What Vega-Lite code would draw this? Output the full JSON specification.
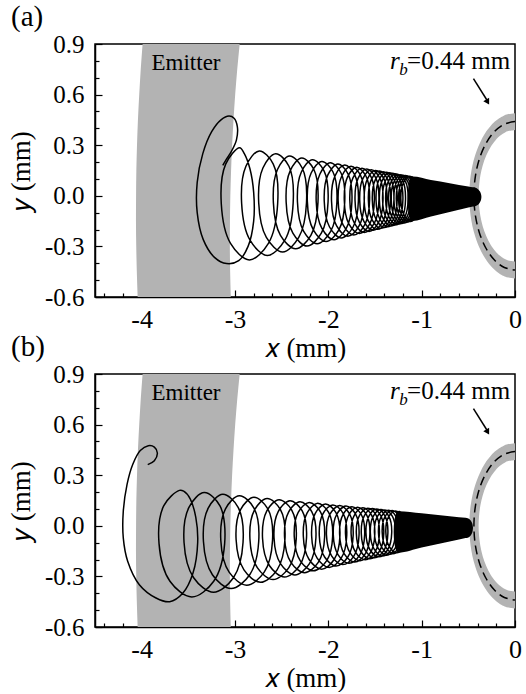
{
"$schema": "https://vega.github.io/schema/vega-lite/v6.json",
"background": "white",
"padding": {"left": 6, "top": 2, "right": 2, "bottom": 0},
"spacing": 77,
"bounds": "flush",
"config": {
 "font": "Liberation Serif",
 "view": {"stroke": "black", "strokeWidth": 1.5},
 "axis": {"grid": false, "domainColor": "black", "domainWidth": 1.5, "tickColor": "black", "tickWidth": 1.2, "labelColor": "black", "titleColor": "black", "titleFontWeight": "normal", "labelFlush": false, "labelOverlap": false, "zindex": 1, "labelFont": "Liberation Serif", "titleFont": "Liberation Serif"},
 "title": {"font": "Liberation Serif", "fontWeight": "normal", "color": "black"}
},
"datasets": {
 "emitter": [
  {"y":-0.6,"x":-4.043,"x2":-3.045},{"y":-0.45,"x":-4.052,"x2":-3.052},{"y":-0.3,"x":-4.058,"x2":-3.055},{"y":-0.15,"x":-4.061,"x2":-3.054},{"y":0,"x":-4.060,"x2":-3.050},{"y":0.15,"x":-4.057,"x2":-3.042},{"y":0.3,"x":-4.050,"x2":-3.031},{"y":0.45,"x":-4.040,"x2":-3.016},{"y":0.6,"x":-4.026,"x2":-2.998},{"y":0.75,"x":-4.010,"x2":-2.976},{"y":0.9,"x":-3.990,"x2":-2.950}
 ],
 "ring": [
  {"y":-0.49,"x":0,"x2":0},{"y":-0.485,"x":-0.070,"x2":0},{"y":-0.475,"x":-0.120,"x2":0},{"y":-0.46,"x":-0.169,"x2":0},{"y":-0.44,"x":-0.216,"x2":0},{"y":-0.41,"x":-0.268,"x2":0},{"y":-0.39,"x":-0.297,"x2":0},{"y":-0.385,"x":-0.303,"x2":-0.062},{"y":-0.375,"x":-0.315,"x2":-0.107},{"y":-0.36,"x":-0.332,"x2":-0.150},{"y":-0.33,"x":-0.362,"x2":-0.208},{"y":-0.29,"x":-0.395,"x2":-0.261},{"y":-0.24,"x":-0.427,"x2":-0.307},{"y":-0.18,"x":-0.456,"x2":-0.346},{"y":-0.12,"x":-0.475,"x2":-0.371},{"y":-0.06,"x":-0.486,"x2":-0.385},{"y":0,"x":-0.49,"x2":-0.39},
  {"y":0.06,"x":-0.486,"x2":-0.385},{"y":0.12,"x":-0.475,"x2":-0.371},{"y":0.18,"x":-0.456,"x2":-0.346},{"y":0.24,"x":-0.427,"x2":-0.307},{"y":0.29,"x":-0.395,"x2":-0.261},{"y":0.33,"x":-0.362,"x2":-0.208},{"y":0.36,"x":-0.332,"x2":-0.150},{"y":0.375,"x":-0.315,"x2":-0.107},{"y":0.385,"x":-0.303,"x2":-0.062},{"y":0.39,"x":-0.297,"x2":0},{"y":0.41,"x":-0.268,"x2":0},{"y":0.44,"x":-0.216,"x2":0},{"y":0.46,"x":-0.169,"x2":0},{"y":0.475,"x":-0.120,"x2":0},{"y":0.485,"x":-0.070,"x2":0},{"y":0.49,"x":0,"x2":0}
 ],
 "circ": [
  {"x":0,"y":0.44},{"x":-0.114,"y":0.425},{"x":-0.22,"y":0.381},{"x":-0.311,"y":0.311},{"x":-0.381,"y":0.22},{"x":-0.425,"y":0.114},{"x":-0.44,"y":0},{"x":-0.425,"y":-0.114},{"x":-0.381,"y":-0.22},{"x":-0.311,"y":-0.311},{"x":-0.22,"y":-0.381},{"x":-0.114,"y":-0.425},{"x":0,"y":-0.44}
 ],
 "lab_em": [{"x":-3.525,"y":0.746,"t":"Emitter"}],
 "lab_r": [{"x":-1.338,"y":0.754,"t":"r"}],
 "lab_b": [{"x":-1.240,"y":0.714,"t":"b"}],
 "lab_mm": [{"x":-1.156,"y":0.754,"t":"=0.44 mm"}],
 "arrow": [{"x":-0.445,"y":0.695,"x2":-0.298,"y2":0.565}],
 "head": [{"x":-0.293,"y":0.556}],
 "trajA": [
  {"x":-3.131,"y":0.181},{"x":-3.095,"y":0.215},{"x":-3.040,"y":0.262},{"x":-2.985,"y":0.330},{"x":-2.975,"y":0.410},{"x":-3.010,"y":0.460},{"x":-3.065,"y":0.473},{"x":-3.150,"y":0.450},{"x":-3.250,"y":0.380},{"x":-3.345,"y":0.250},{"x":-3.405,"y":0.080},{"x":-3.405,"y":-0.100},{"x":-3.340,"y":-0.260},{"x":-3.220,"y":-0.365},{"x":-3.090,"y":-0.402},{"x":-2.960,"y":-0.385},{"x":-2.860,"y":-0.300},{"x":-2.800,"y":-0.150},{"x":-2.800,"y":0.020},{"x":-2.840,"y":0.160},{"x":-2.900,"y":0.250},
  {"x":-2.950,"y":0.285},{"x":-3.100,"y":0.188},{"x":-3.147,"y":-0.047},{"x":-3.048,"y":-0.282},{"x":-2.845,"y":-0.380},{"x":-2.642,"y":-0.282},{"x":-2.543,"y":-0.047},{"x":-2.590,"y":0.188},
  {"x":-2.740,"y":0.266},{"x":-2.883,"y":0.175},{"x":-2.929,"y":-0.044},{"x":-2.839,"y":-0.263},{"x":-2.653,"y":-0.354},{"x":-2.466,"y":-0.263},{"x":-2.377,"y":-0.044},{"x":-2.422,"y":0.175},
  {"x":-2.565,"y":0.250},{"x":-2.701,"y":0.165},{"x":-2.746,"y":-0.041},{"x":-2.664,"y":-0.247},{"x":-2.490,"y":-0.333},{"x":-2.317,"y":-0.247},{"x":-2.234,"y":-0.041},{"x":-2.280,"y":0.165},
  {"x":-2.415,"y":0.236},{"x":-2.545,"y":0.156},{"x":-2.589,"y":-0.039},{"x":-2.513,"y":-0.234},{"x":-2.350,"y":-0.314},{"x":-2.187,"y":-0.234},{"x":-2.111,"y":-0.039},{"x":-2.155,"y":0.156},
  {"x":-2.285,"y":0.224},{"x":-2.409,"y":0.148},{"x":-2.452,"y":-0.037},{"x":-2.380,"y":-0.222},{"x":-2.228,"y":-0.298},{"x":-2.075,"y":-0.222},{"x":-2.003,"y":-0.037},{"x":-2.046,"y":0.148},
  {"x":-2.170,"y":0.214},{"x":-2.289,"y":0.141},{"x":-2.331,"y":-0.035},{"x":-2.264,"y":-0.211},{"x":-2.120,"y":-0.284},{"x":-1.975,"y":-0.211},{"x":-1.908,"y":-0.035},{"x":-1.950,"y":0.141},
  {"x":-2.069,"y":0.204},{"x":-2.184,"y":0.135},{"x":-2.225,"y":-0.033},{"x":-2.161,"y":-0.202},{"x":-2.024,"y":-0.271},{"x":-1.887,"y":-0.202},{"x":-1.824,"y":-0.033},{"x":-1.864,"y":0.135},
  {"x":-1.979,"y":0.196},{"x":-2.090,"y":0.129},{"x":-2.130,"y":-0.032},{"x":-2.069,"y":-0.193},{"x":-1.939,"y":-0.260},{"x":-1.808,"y":-0.193},{"x":-1.747,"y":-0.032},{"x":-1.788,"y":0.129},
  {"x":-1.898,"y":0.188},{"x":-2.005,"y":0.124},{"x":-2.044,"y":-0.031},{"x":-1.987,"y":-0.185},{"x":-1.861,"y":-0.250},{"x":-1.735,"y":-0.185},{"x":-1.678,"y":-0.031},{"x":-1.717,"y":0.124},
  {"x":-1.824,"y":0.182},{"x":-1.927,"y":0.120},{"x":-1.966,"y":-0.029},{"x":-1.911,"y":-0.179},{"x":-1.791,"y":-0.240},{"x":-1.671,"y":-0.179},{"x":-1.615,"y":-0.029},{"x":-1.654,"y":0.120},
  {"x":-1.757,"y":0.175},{"x":-1.857,"y":0.116},{"x":-1.895,"y":-0.028},{"x":-1.842,"y":-0.172},{"x":-1.727,"y":-0.232},{"x":-1.611,"y":-0.172},{"x":-1.558,"y":-0.028},{"x":-1.596,"y":0.116},
  {"x":-1.696,"y":0.169},{"x":-1.794,"y":0.112},{"x":-1.829,"y":-0.027},{"x":-1.780,"y":-0.167},{"x":-1.668,"y":-0.224},{"x":-1.556,"y":-0.167},{"x":-1.507,"y":-0.027},{"x":-1.542,"y":0.112},
  {"x":-1.640,"y":0.164},{"x":-1.735,"y":0.108},{"x":-1.770,"y":-0.026},{"x":-1.722,"y":-0.161},{"x":-1.614,"y":-0.217},{"x":-1.506,"y":-0.161},{"x":-1.458,"y":-0.026},{"x":-1.493,"y":0.108},
  {"x":-1.588,"y":0.159},{"x":-1.680,"y":0.105},{"x":-1.714,"y":-0.026},{"x":-1.668,"y":-0.156},{"x":-1.564,"y":-0.211},{"x":-1.460,"y":-0.156},{"x":-1.414,"y":-0.026},{"x":-1.448,"y":0.105},
  {"x":-1.540,"y":0.155},{"x":-1.630,"y":0.102},{"x":-1.664,"y":-0.025},{"x":-1.619,"y":-0.152},{"x":-1.518,"y":-0.204},{"x":-1.416,"y":-0.152},{"x":-1.371,"y":-0.025},{"x":-1.405,"y":0.102},
  {"x":-1.495,"y":0.150},{"x":-1.582,"y":0.099},{"x":-1.616,"y":-0.024},{"x":-1.572,"y":-0.148},{"x":-1.474,"y":-0.199},{"x":-1.376,"y":-0.148},{"x":-1.332,"y":-0.024},{"x":-1.366,"y":0.099},
  {"x":-1.453,"y":0.147},{"x":-1.538,"y":0.097},{"x":-1.571,"y":-0.023},{"x":-1.529,"y":-0.144},{"x":-1.434,"y":-0.193},{"x":-1.339,"y":-0.144},{"x":-1.297,"y":-0.023},{"x":-1.329,"y":0.097},
  {"x":-1.414,"y":0.143},{"x":-1.497,"y":0.094},{"x":-1.529,"y":-0.023},{"x":-1.488,"y":-0.140},{"x":-1.396,"y":-0.188},{"x":-1.303,"y":-0.140},{"x":-1.262,"y":-0.023},{"x":-1.294,"y":0.094},
  {"x":-1.377,"y":0.139},{"x":-1.459,"y":0.092},{"x":-1.489,"y":-0.022},{"x":-1.450,"y":-0.136},{"x":-1.360,"y":-0.184},{"x":-1.270,"y":-0.136},{"x":-1.231,"y":-0.022},{"x":-1.261,"y":0.092},
  {"x":-1.343,"y":0.136},{"x":-1.423,"y":0.090},{"x":-1.453,"y":-0.022},{"x":-1.415,"y":-0.133},{"x":-1.327,"y":-0.179},{"x":-1.239,"y":-0.133},{"x":-1.201,"y":-0.022},{"x":-1.231,"y":0.090},
  {"x":-1.311,"y":0.133},{"x":-1.389,"y":0.088},{"x":-1.419,"y":-0.021},{"x":-1.381,"y":-0.130},{"x":-1.296,"y":-0.175},{"x":-1.210,"y":-0.130},{"x":-1.173,"y":-0.021},{"x":-1.203,"y":0.088},
  {"x":-1.280,"y":0.130},{"x":-1.357,"y":0.086},{"x":-1.386,"y":-0.021},{"x":-1.349,"y":-0.127},{"x":-1.266,"y":-0.171},{"x":-1.182,"y":-0.127},{"x":-1.145,"y":-0.021},{"x":-1.174,"y":0.086},
  {"x":-1.251,"y":0.127},{"x":-1.326,"y":0.084},{"x":-1.355,"y":-0.020},{"x":-1.319,"y":-0.124},{"x":-1.238,"y":-0.167},{"x":-1.156,"y":-0.124},{"x":-1.120,"y":-0.020},{"x":-1.149,"y":0.084},
  {"x":-1.224,"y":0.125},{"x":-1.298,"y":0.082},{"x":-1.326,"y":-0.020},{"x":-1.291,"y":-0.122},{"x":-1.211,"y":-0.164},{"x":-1.132,"y":-0.122},{"x":-1.096,"y":-0.020},{"x":-1.125,"y":0.082},
  {"x":-1.198,"y":0.122},{"x":-1.270,"y":0.081},{"x":-1.297,"y":-0.019},{"x":-1.264,"y":-0.119},{"x":-1.186,"y":-0.161},{"x":-1.107,"y":-0.119},{"x":-1.074,"y":-0.019},{"x":-1.101,"y":0.081},
  {"x":-1.173,"y":0.120},{"x":-1.244,"y":0.079},{"x":-1.272,"y":-0.019},{"x":-1.238,"y":-0.117},{"x":-1.162,"y":-0.157},{"x":-1.086,"y":-0.117},{"x":-1.051,"y":-0.019},{"x":-1.080,"y":0.079},
  {"x":-1.150,"y":0.118},{"x":-1.219,"y":0.078},{"x":-1.247,"y":-0.018},{"x":-1.214,"y":-0.115},{"x":-1.139,"y":-0.154},{"x":-1.064,"y":-0.115},{"x":-1.032,"y":-0.018},{"x":-1.059,"y":0.078},
  {"x":-1.128,"y":0.116},{"x":-1.197,"y":0.076},{"x":-1.223,"y":-0.018},{"x":-1.191,"y":-0.112},{"x":-1.118,"y":-0.152},{"x":-1.044,"y":-0.112},{"x":-1.012,"y":-0.018},{"x":-1.038,"y":0.076},
  {"x":-1.107,"y":0.114}
 ],
 "coneA": [
  {"x":-1.150,"y":-0.018,"y2":-0.018},{"x":-1.148,"y":-0.055,"y2":0.019},{"x":-1.140,"y":-0.097,"y2":0.061},{"x":-1.130,"y":-0.123,"y2":0.087},{"x":-1.115,"y":-0.143,"y2":0.107},{"x":-1.100,"y":-0.149,"y2":0.114},{"x":-0.900,"y":-0.123,"y2":0.094},{"x":-0.700,"y":-0.096,"y2":0.075},{"x":-0.500,"y":-0.070,"y2":0.055},{"x":-0.450,"y":-0.064,"y2":0.050},{"x":-0.420,"y":-0.060,"y2":0.047},{"x":-0.400,"y":-0.054,"y2":0.041},{"x":-0.380,"y":-0.042,"y2":0.029},{"x":-0.370,"y":-0.033,"y2":0.020},{"x":-0.362,"y":-0.018,"y2":0.005},{"x":-0.360,"y":-0.007,"y2":-0.006}
 ],
 "trajB": [
  {"x":-3.935,"y":0.363},{"x":-3.864,"y":0.386},{"x":-3.832,"y":0.432},{"x":-3.864,"y":0.467},{"x":-3.929,"y":0.475},{"x":-4.015,"y":0.446},{"x":-4.096,"y":0.363},{"x":-4.157,"y":0.244},{"x":-4.197,"y":0.086},{"x":-4.197,"y":-0.072},{"x":-4.150,"y":-0.210},{"x":-4.025,"y":-0.349},{"x":-3.846,"y":-0.428},{"x":-3.700,"y":-0.450},{"x":-3.560,"y":-0.400},{"x":-3.450,"y":-0.280},{"x":-3.400,"y":-0.100},{"x":-3.420,"y":0.050},{"x":-3.480,"y":0.160},{"x":-3.550,"y":0.205},
  {"x":-3.596,"y":0.210},{"x":-3.764,"y":0.118},{"x":-3.814,"y":-0.106},{"x":-3.697,"y":-0.329},{"x":-3.463,"y":-0.422},{"x":-3.228,"y":-0.329},{"x":-3.111,"y":-0.106},{"x":-3.161,"y":0.118},
  {"x":-3.329,"y":0.197},{"x":-3.492,"y":0.111},{"x":-3.546,"y":-0.099},{"x":-3.443,"y":-0.308},{"x":-3.230,"y":-0.394},{"x":-3.017,"y":-0.308},{"x":-2.914,"y":-0.099},{"x":-2.968,"y":0.111},
  {"x":-3.131,"y":0.187},{"x":-3.287,"y":0.105},{"x":-3.338,"y":-0.093},{"x":-3.242,"y":-0.290},{"x":-3.042,"y":-0.372},{"x":-2.842,"y":-0.290},{"x":-2.746,"y":-0.093},{"x":-2.797,"y":0.105},
  {"x":-2.953,"y":0.178},{"x":-3.102,"y":0.100},{"x":-3.152,"y":-0.087},{"x":-3.063,"y":-0.275},{"x":-2.875,"y":-0.352},{"x":-2.687,"y":-0.275},{"x":-2.598,"y":-0.087},{"x":-2.648,"y":0.100},
  {"x":-2.797,"y":0.169},{"x":-2.940,"y":0.096},{"x":-2.988,"y":-0.083},{"x":-2.904,"y":-0.261},{"x":-2.727,"y":-0.335},{"x":-2.549,"y":-0.261},{"x":-2.465,"y":-0.083},{"x":-2.513,"y":0.096},
  {"x":-2.656,"y":0.162},{"x":-2.793,"y":0.092},{"x":-2.840,"y":-0.078},{"x":-2.761,"y":-0.248},{"x":-2.592,"y":-0.319},{"x":-2.423,"y":-0.248},{"x":-2.344,"y":-0.078},{"x":-2.391,"y":0.092},
  {"x":-2.528,"y":0.155},{"x":-2.659,"y":0.088},{"x":-2.705,"y":-0.074},{"x":-2.630,"y":-0.237},{"x":-2.470,"y":-0.304},{"x":-2.309,"y":-0.237},{"x":-2.234,"y":-0.074},{"x":-2.280,"y":0.088},
  {"x":-2.411,"y":0.149},{"x":-2.537,"y":0.084},{"x":-2.582,"y":-0.071},{"x":-2.511,"y":-0.226},{"x":-2.358,"y":-0.291},{"x":-2.204,"y":-0.226},{"x":-2.133,"y":-0.071},{"x":-2.178,"y":0.084},
  {"x":-2.304,"y":0.143},{"x":-2.426,"y":0.081},{"x":-2.469,"y":-0.068},{"x":-2.401,"y":-0.217},{"x":-2.255,"y":-0.278},{"x":-2.108,"y":-0.217},{"x":-2.040,"y":-0.068},{"x":-2.083,"y":0.081},
  {"x":-2.205,"y":0.138},{"x":-2.323,"y":0.079},{"x":-2.365,"y":-0.065},{"x":-2.300,"y":-0.208},{"x":-2.160,"y":-0.267},{"x":-2.019,"y":-0.208},{"x":-1.954,"y":-0.065},{"x":-1.997,"y":0.079},
  {"x":-2.114,"y":0.133},{"x":-2.227,"y":0.076},{"x":-2.268,"y":-0.062},{"x":-2.206,"y":-0.200},{"x":-2.072,"y":-0.257},{"x":-1.938,"y":-0.200},{"x":-1.876,"y":-0.062},{"x":-1.917,"y":0.076},
  {"x":-2.030,"y":0.129},{"x":-2.140,"y":0.074},{"x":-2.179,"y":-0.059},{"x":-2.120,"y":-0.192},{"x":-1.991,"y":-0.247},{"x":-1.862,"y":-0.192},{"x":-1.803,"y":-0.059},{"x":-1.842,"y":0.074},
  {"x":-1.952,"y":0.124},{"x":-2.058,"y":0.071},{"x":-2.097,"y":-0.057},{"x":-2.040,"y":-0.185},{"x":-1.916,"y":-0.238},{"x":-1.791,"y":-0.185},{"x":-1.734,"y":-0.057},{"x":-1.773,"y":0.071},
  {"x":-1.879,"y":0.120},{"x":-1.982,"y":0.069},{"x":-2.020,"y":-0.055},{"x":-1.965,"y":-0.178},{"x":-1.845,"y":-0.230},{"x":-1.725,"y":-0.178},{"x":-1.671,"y":-0.055},{"x":-1.708,"y":0.069},
  {"x":-1.811,"y":0.117},{"x":-1.911,"y":0.067},{"x":-1.947,"y":-0.053},{"x":-1.895,"y":-0.172},{"x":-1.779,"y":-0.222},{"x":-1.663,"y":-0.172},{"x":-1.611,"y":-0.053},{"x":-1.647,"y":0.067},
  {"x":-1.747,"y":0.113},{"x":-1.844,"y":0.065},{"x":-1.879,"y":-0.051},{"x":-1.829,"y":-0.166},{"x":-1.717,"y":-0.214},{"x":-1.605,"y":-0.166},{"x":-1.555,"y":-0.051},{"x":-1.590,"y":0.065},
  {"x":-1.687,"y":0.110},{"x":-1.781,"y":0.064},{"x":-1.816,"y":-0.049},{"x":-1.767,"y":-0.161},{"x":-1.659,"y":-0.207},{"x":-1.551,"y":-0.161},{"x":-1.502,"y":-0.049},{"x":-1.537,"y":0.064},
  {"x":-1.631,"y":0.107},{"x":-1.722,"y":0.062},{"x":-1.756,"y":-0.047},{"x":-1.709,"y":-0.156},{"x":-1.605,"y":-0.201},{"x":-1.500,"y":-0.156},{"x":-1.453,"y":-0.047},{"x":-1.487,"y":0.062},
  {"x":-1.578,"y":0.104},{"x":-1.667,"y":0.060},{"x":-1.700,"y":-0.045},{"x":-1.654,"y":-0.151},{"x":-1.553,"y":-0.195},{"x":-1.452,"y":-0.151},{"x":-1.406,"y":-0.045},{"x":-1.439,"y":0.060},
  {"x":-1.528,"y":0.102},{"x":-1.615,"y":0.059},{"x":-1.647,"y":-0.044},{"x":-1.603,"y":-0.147},{"x":-1.505,"y":-0.189},{"x":-1.406,"y":-0.147},{"x":-1.362,"y":-0.044},{"x":-1.394,"y":0.059},
  {"x":-1.481,"y":0.099},{"x":-1.565,"y":0.058},{"x":-1.597,"y":-0.042},{"x":-1.554,"y":-0.142},{"x":-1.459,"y":-0.184},{"x":-1.364,"y":-0.142},{"x":-1.321,"y":-0.042},{"x":-1.353,"y":0.058},
  {"x":-1.437,"y":0.097},{"x":-1.519,"y":0.056},{"x":-1.550,"y":-0.041},{"x":-1.509,"y":-0.138},{"x":-1.416,"y":-0.179},{"x":-1.323,"y":-0.138},{"x":-1.282,"y":-0.041},{"x":-1.313,"y":0.056},
  {"x":-1.395,"y":0.094},{"x":-1.475,"y":0.055},{"x":-1.506,"y":-0.040},{"x":-1.465,"y":-0.134},{"x":-1.375,"y":-0.174},{"x":-1.285,"y":-0.134},{"x":-1.244,"y":-0.040},{"x":-1.275,"y":0.055},
  {"x":-1.355,"y":0.092},{"x":-1.433,"y":0.054},{"x":-1.463,"y":-0.038},{"x":-1.424,"y":-0.131},{"x":-1.336,"y":-0.169},{"x":-1.248,"y":-0.131},{"x":-1.209,"y":-0.038},{"x":-1.239,"y":0.054},
  {"x":-1.317,"y":0.090},{"x":-1.394,"y":0.053},{"x":-1.423,"y":-0.037},{"x":-1.385,"y":-0.127},{"x":-1.299,"y":-0.165},{"x":-1.214,"y":-0.127},{"x":-1.175,"y":-0.037},{"x":-1.205,"y":0.053},
  {"x":-1.281,"y":0.088},{"x":-1.356,"y":0.052},{"x":-1.384,"y":-0.036},{"x":-1.347,"y":-0.124},{"x":-1.264,"y":-0.160},{"x":-1.181,"y":-0.124},{"x":-1.144,"y":-0.036},{"x":-1.172,"y":0.052},
  {"x":-1.247,"y":0.087}
 ],
 "coneB": [
  {"x":-1.300,"y":-0.036,"y2":-0.036},{"x":-1.298,"y":-0.070,"y2":-0.001},{"x":-1.290,"y":-0.110,"y2":0.038},{"x":-1.280,"y":-0.134,"y2":0.063},{"x":-1.265,"y":-0.153,"y2":0.082},{"x":-1.250,"y":-0.159,"y2":0.087},{"x":-1.000,"y":-0.129,"y2":0.074},{"x":-0.800,"y":-0.105,"y2":0.062},{"x":-0.600,"y":-0.081,"y2":0.051},{"x":-0.530,"y":-0.073,"y2":0.047},{"x":-0.500,"y":-0.069,"y2":0.043},{"x":-0.480,"y":-0.060,"y2":0.034},{"x":-0.465,"y":-0.048,"y2":0.022},{"x":-0.455,"y":-0.034,"y2":0.008},{"x":-0.450,"y":-0.013,"y2":-0.012}
 ]
},
"vconcat": [
 {
  "title": {"text": "(a)", "anchor": "start", "frame": "group", "dx": -84, "fontSize": 29, "offset": 0},
  "width": 420, "height": 253,
  "encoding": {
   "x": {"field": "x", "type": "quantitative", "title": "𝑥 (mm)", "scale": {"domain": [-4.5, 0], "nice": false, "zero": false},
     "axis": {"values": [-4.4,-4.2,-4,-3.8,-3.6,-3.4,-3.2,-3,-2.8,-2.6,-2.4,-2.2,-2,-1.8,-1.6,-1.4,-1.2,-1,-0.8,-0.6,-0.4,-0.2,0],
       "labelExpr": "abs(datum.value % 1) < 0.001 ? (datum.value < 0 ? '-' : '') + abs(datum.value) : ''",
       "tickSize": {"condition": {"test": "abs(datum.value % 1) < 0.001", "value": -7}, "value": -4},
       "labelFont": "Liberation Serif", "titleFont": "Liberation Serif",
       "labelPadding": 16, "labelFontSize": 26, "titleFontSize": 27, "titlePadding": 0}},
   "y": {"field": "y", "type": "quantitative", "title": "𝑦 (mm)", "scale": {"domain": [-0.6, 0.9], "nice": false, "zero": false},
     "axis": {"values": [-0.6,-0.5,-0.4,-0.3,-0.2,-0.1,0,0.1,0.2,0.3,0.4,0.5,0.6,0.7,0.8,0.9],
       "labelExpr": "abs(round(datum.value*10)) % 3 === 0 ? (datum.value < -0.001 ? '-' : '') + format(abs(datum.value), '.1f') : ''",
       "tickSize": {"condition": {"test": "abs(round(datum.value*10)) % 3 === 0", "value": -7}, "value": -4},
       "labelFont": "Liberation Serif", "titleFont": "Liberation Serif",
       "labelPadding": 18, "labelFontSize": 25, "titleFontSize": 27, "titlePadding": 9}}
  },
  "layer": [
   {"data": {"name": "emitter"}, "mark": {"type": "area", "orient": "horizontal", "color": "#b3b3b3", "interpolate": "monotone", "clip": true}, "encoding": {"x2": {"field": "x2"}}},
   {"data": {"name": "ring"}, "mark": {"type": "area", "orient": "horizontal", "color": "#b3b3b3", "interpolate": "monotone", "clip": true}, "encoding": {"x2": {"field": "x2"}}},
   {"data": {"name": "circ"}, "mark": {"type": "line", "color": "black", "strokeWidth": 1.5, "strokeDash": [9, 5], "interpolate": "catmull-rom", "order": false, "clip": true}, "encoding": {}},
   {"data": {"name": "trajA"}, "mark": {"type": "line", "color": "black", "strokeWidth": 1.5, "interpolate": "catmull-rom", "order": false, "clip": true}, "encoding": {}},
   {"data": {"name": "coneA"}, "mark": {"type": "area", "color": "black", "interpolate": "monotone", "clip": true}, "encoding": {"y2": {"field": "y2"}}},
   {"data": {"name": "lab_em"}, "mark": {"type": "text", "font": "Liberation Serif", "fontSize": 23, "align": "center", "baseline": "alphabetic", "color": "black"}, "encoding": {"text": {"field": "t"}}},
   {"data": {"name": "lab_r"}, "mark": {"type": "text", "font": "Liberation Serif", "fontSize": 25, "fontStyle": "italic", "align": "left", "baseline": "alphabetic", "color": "black"}, "encoding": {"text": {"field": "t"}}},
   {"data": {"name": "lab_b"}, "mark": {"type": "text", "font": "Liberation Serif", "fontSize": 17, "fontStyle": "italic", "align": "left", "baseline": "alphabetic", "color": "black"}, "encoding": {"text": {"field": "t"}}},
   {"data": {"name": "lab_mm"}, "mark": {"type": "text", "font": "Liberation Serif", "fontSize": 25, "align": "left", "baseline": "alphabetic", "color": "black"}, "encoding": {"text": {"field": "t"}}},
   {"data": {"name": "arrow"}, "mark": {"type": "rule", "color": "black", "strokeWidth": 1.5}, "encoding": {"x2": {"field": "x2"}, "y2": {"field": "y2"}}},
   {"data": {"name": "head"}, "mark": {"type": "point", "shape": "triangle-up", "filled": true, "color": "black", "opacity": 1, "size": 45, "angle": 150}, "encoding": {}}
  ]
 },
 {
  "title": {"text": "(b)", "anchor": "start", "frame": "group", "dx": -84, "fontSize": 29, "offset": 0},
  "width": 420, "height": 253,
  "encoding": {
   "x": {"field": "x", "type": "quantitative", "title": "𝑥 (mm)", "scale": {"domain": [-4.5, 0], "nice": false, "zero": false},
     "axis": {"values": [-4.4,-4.2,-4,-3.8,-3.6,-3.4,-3.2,-3,-2.8,-2.6,-2.4,-2.2,-2,-1.8,-1.6,-1.4,-1.2,-1,-0.8,-0.6,-0.4,-0.2,0],
       "labelExpr": "abs(datum.value % 1) < 0.001 ? (datum.value < 0 ? '-' : '') + abs(datum.value) : ''",
       "tickSize": {"condition": {"test": "abs(datum.value % 1) < 0.001", "value": -7}, "value": -4},
       "labelFont": "Liberation Serif", "titleFont": "Liberation Serif",
       "labelPadding": 16, "labelFontSize": 26, "titleFontSize": 27, "titlePadding": 0}},
   "y": {"field": "y", "type": "quantitative", "title": "𝑦 (mm)", "scale": {"domain": [-0.6, 0.9], "nice": false, "zero": false},
     "axis": {"values": [-0.6,-0.5,-0.4,-0.3,-0.2,-0.1,0,0.1,0.2,0.3,0.4,0.5,0.6,0.7,0.8,0.9],
       "labelExpr": "abs(round(datum.value*10)) % 3 === 0 ? (datum.value < -0.001 ? '-' : '') + format(abs(datum.value), '.1f') : ''",
       "tickSize": {"condition": {"test": "abs(round(datum.value*10)) % 3 === 0", "value": -7}, "value": -4},
       "labelFont": "Liberation Serif", "titleFont": "Liberation Serif",
       "labelPadding": 18, "labelFontSize": 25, "titleFontSize": 27, "titlePadding": 9}}
  },
  "layer": [
   {"data": {"name": "emitter"}, "mark": {"type": "area", "orient": "horizontal", "color": "#b3b3b3", "interpolate": "monotone", "clip": true}, "encoding": {"x2": {"field": "x2"}}},
   {"data": {"name": "ring"}, "mark": {"type": "area", "orient": "horizontal", "color": "#b3b3b3", "interpolate": "monotone", "clip": true}, "encoding": {"x2": {"field": "x2"}}},
   {"data": {"name": "circ"}, "mark": {"type": "line", "color": "black", "strokeWidth": 1.5, "strokeDash": [9, 5], "interpolate": "catmull-rom", "order": false, "clip": true}, "encoding": {}},
   {"data": {"name": "trajB"}, "mark": {"type": "line", "color": "black", "strokeWidth": 1.5, "interpolate": "catmull-rom", "order": false, "clip": true}, "encoding": {}},
   {"data": {"name": "coneB"}, "mark": {"type": "area", "color": "black", "interpolate": "monotone", "clip": true}, "encoding": {"y2": {"field": "y2"}}},
   {"data": {"name": "lab_em"}, "mark": {"type": "text", "font": "Liberation Serif", "fontSize": 23, "align": "center", "baseline": "alphabetic", "color": "black"}, "encoding": {"text": {"field": "t"}}},
   {"data": {"name": "lab_r"}, "mark": {"type": "text", "font": "Liberation Serif", "fontSize": 25, "fontStyle": "italic", "align": "left", "baseline": "alphabetic", "color": "black"}, "encoding": {"text": {"field": "t"}}},
   {"data": {"name": "lab_b"}, "mark": {"type": "text", "font": "Liberation Serif", "fontSize": 17, "fontStyle": "italic", "align": "left", "baseline": "alphabetic", "color": "black"}, "encoding": {"text": {"field": "t"}}},
   {"data": {"name": "lab_mm"}, "mark": {"type": "text", "font": "Liberation Serif", "fontSize": 25, "align": "left", "baseline": "alphabetic", "color": "black"}, "encoding": {"text": {"field": "t"}}},
   {"data": {"name": "arrow"}, "mark": {"type": "rule", "color": "black", "strokeWidth": 1.5}, "encoding": {"x2": {"field": "x2"}, "y2": {"field": "y2"}}},
   {"data": {"name": "head"}, "mark": {"type": "point", "shape": "triangle-up", "filled": true, "color": "black", "opacity": 1, "size": 45, "angle": 150}, "encoding": {}}
  ]
 }
]
}
